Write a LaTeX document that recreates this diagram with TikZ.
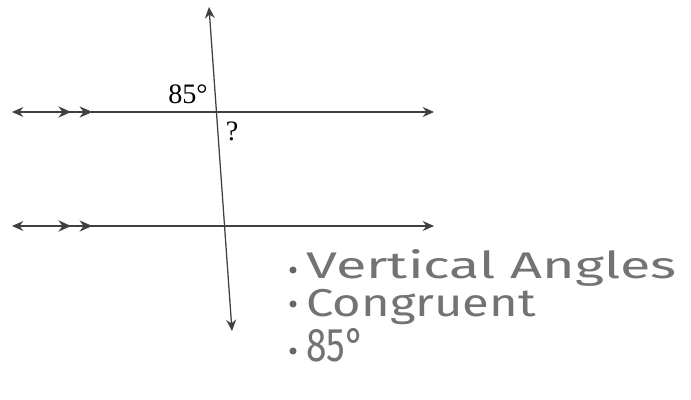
\documentclass[tikz,border=0pt]{standalone}
\usepackage{fontspec}
\setmainfont{Liberation Serif}
\newfontfamily\handfont{Fira Sans}
\usetikzlibrary{arrows.meta,decorations.markings}

\tikzset{
  line/.style={draw=black!75, line width=0.9pt, {Stealth[length=8pt,width=7pt]}-{Stealth[length=8pt,width=7pt]}},
  parmarks/.style={postaction={decorate, decoration={markings,
      mark=at position 0.14 with {\arrow{Stealth[length=9pt,width=8pt]}},
      mark=at position 0.19 with {\arrow{Stealth[length=9pt,width=8pt]}}}}},
  note/.style={anchor=base west, inner sep=0pt, text=black!55, font=\handfont\fontsize{24}{28}\selectfont},
  dot/.style={circle, fill=black!60, inner sep=0pt, minimum size=5pt}
}

\begin{document}
\begin{tikzpicture}[x=0.025cm, y=-0.025cm]
\useasboundingbox (0,0) rectangle (691,400);

% --- parallel lines ---
\coordinate (topL) at (12,112);
\coordinate (topR) at (434,112);
\coordinate (botL) at (12,226);
\coordinate (botR) at (434,226);
\draw[line, parmarks] (topL) -- (topR);
\draw[line, parmarks] (botL) -- (botR);

% --- transversal ---
\coordinate (trT) at (209,7);
\coordinate (trB) at (232,331);
\draw[line] (trT) -- (trB);

% --- angle labels ---
\node (ang) at (188,94) {\fontsize{20}{24}\selectfont 85\textdegree};
\node (unk) at (232,131) {\fontsize{20}{24}\selectfont ?};

% --- notes ---
\node[dot] (d1) at (293,270) {};
\node[note, xscale=1.65, yscale=1.1] (n1) at (306,278) {Vertical Angles};
\node[dot] (d2) at (293,304) {};
\node[note, xscale=1.45, yscale=1.15] (n2) at (306,316) {Congruent};
\node[dot] (d3) at (293,351) {};
\node[note, xscale=1.1, yscale=1.4] (n3) at (306,361) {85\textdegree};

\end{tikzpicture}
\end{document}
